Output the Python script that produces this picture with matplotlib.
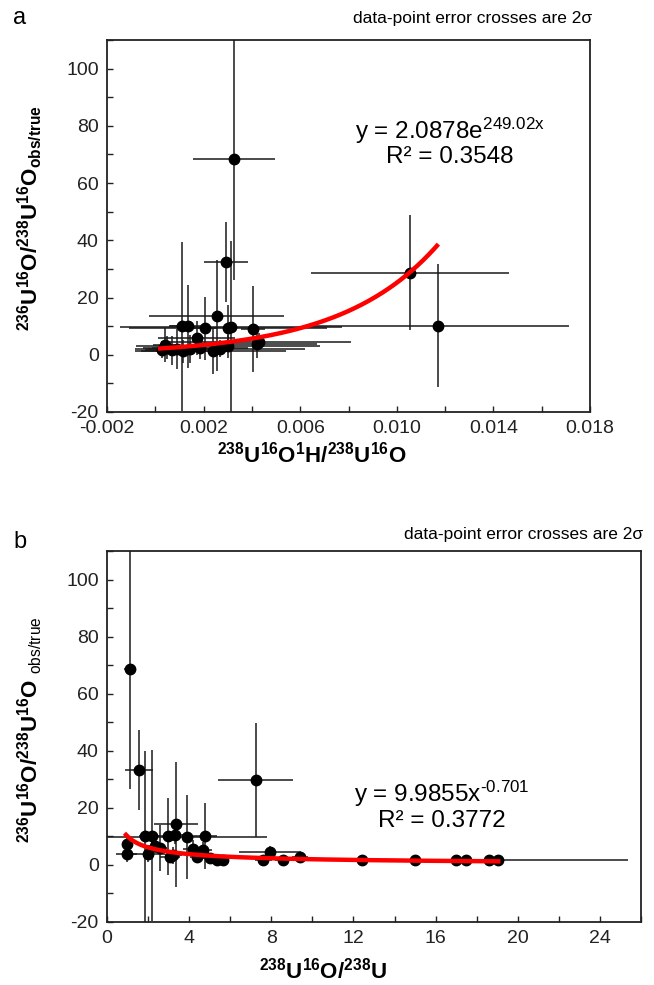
import numpy as np
import matplotlib
matplotlib.use("Agg")
import matplotlib.pyplot as plt
from matplotlib.ticker import FixedLocator

plt.rcParams['font.family'] = ['Liberation Sans', 'DejaVu Sans']
plt.rcParams['mathtext.fontset'] = 'custom'
plt.rcParams['mathtext.rm'] = 'Liberation Sans'
plt.rcParams['mathtext.it'] = 'Liberation Sans'
plt.rcParams['mathtext.bf'] = 'Liberation Sans:bold'
plt.rcParams['axes.unicode_minus'] = False

# ---------------- data : panel a ----------------
a_x = [0.00327, 0.00293, 0.01054, 0.01172, 0.00254, 0.00313, 0.00300, 0.00109, 0.00137,
       0.00206, 0.00403, 0.00420, 0.00171, 0.00026, 0.00047, 0.00070, 0.00088, 0.00115,
       0.00144, 0.00185, 0.00240, 0.00268, 0.00300, 0.00430, 0.00040]
a_y = [68.3, 32.4, 28.7, 10.1, 13.7, 9.7, 9.3, 9.9, 9.9,
       9.3, 9.0, 3.7, 5.8, 1.7, 2.5, 1.5, 2.0, 1.2,
       2.0, 2.5, 1.2, 2.1, 3.0, 4.6, 3.5]
a_xerr = [0.0017, 0.0009, 0.0041, 0.0054, 0.0028, 0.0046, 0.0041, 0.0005, 0.0008,
          0.0005, 0.0005, 0.0025, 0.0016, 0.0007, 0.0010, 0.0006, 0.0012, 0.0020,
          0.0010, 0.0020, 0.0030, 0.0035, 0.0038, 0.0038, 0.0005]
a_yerr = [42, 14, 20, 21.5, 19.5, 30, 8, 29.6, 14.5,
          11, 15, 5, 6, 3, 4, 5, 7, 4,
          5, 4, 8, 3, 4, 3, 6]
a_fit_coef = 2.0878
a_fit_exp = 249.02
a_fit_range = [0.0002, 0.01166]
a_xticks = [-0.002, 0.0, 0.002, 0.004, 0.006, 0.008, 0.010, 0.012, 0.014, 0.016, 0.018]
a_xlabels = ['-0.002', '', '0.002', '', '0.006', '', '0.010', '', '0.014', '', '0.018']

# ---------------- data : panel b ----------------
b_x = [1.12, 1.56, 7.24, 3.36, 1.85, 2.18, 2.99, 3.88, 4.77, 3.31, 0.96, 0.96, 2.01,
       2.34, 3.07, 3.23, 4.20, 4.36, 4.69, 5.01, 5.34, 5.66, 7.61, 7.94, 8.58, 9.40,
       12.4, 15.0, 17.0, 17.5, 18.6, 19.05, 2.60]
b_y = [68.7, 33.3, 29.8, 14.2, 10.0, 10.2, 10.0, 9.8, 10.2, 10.5, 7.2, 4.0, 4.0,
       6.6, 2.8, 3.4, 5.7, 2.8, 5.1, 2.3, 1.7, 1.7, 1.7, 4.5, 1.7, 2.8,
       1.9, 1.7, 1.7, 1.7, 1.7, 1.7, 6.0]
b_xerr = [0.3, 0.68, 1.83, 1.07, 0.3, 0.4, 0.5, 3.9, 0.6, 0.5, 0.15, 0.5, 0.8,
          0.3, 0.5, 0.4, 0.5, 0.3, 0.4, 0.4, 0.3, 0.3, 0.4, 1.5, 0.4, 0.4,
          0.4, 0.4, 0.4, 0.4, 0.5, 6.3, 0.3]
b_yerr = [42, 14, 20, 22, 30, 30, 13.5, 14.8, 11.5, 3, 2.5, 3, 3,
          2.5, 2, 3, 3, 2, 3, 2, 1, 1, 1, 2, 1, 1.5,
          1, 1, 1, 1, 1, 1, 8]
b_fit_coef = 9.9855
b_fit_pow = -0.701
b_fit_range = [0.925, 19.05]
b_xticks = list(range(0, 27, 2))
b_xlabels = ['0', '', '4', '', '8', '', '12', '', '16', '', '20', '', '24', '']

y_ticks = list(range(-20, 111, 10))
y_labels = ['-20', '', '0', '', '20', '', '40', '', '60', '', '80', '', '100', '']

W, H = 654, 985
fig = plt.figure(figsize=(W / 100, H / 100), dpi=100)

def px_axes(l, t, r, b):
    return fig.add_axes([l / W, 1 - b / H, (r - l) / W, (b - t) / H])

axa = px_axes(107, 40, 590, 412)
axb = px_axes(107, 551, 641, 922)

ecol = '#1a1a1a'

def style(ax, xticks, xlabels, xlim):
    ax.set_xlim(*xlim)
    ax.set_ylim(-20, 110)
    ax.xaxis.set_major_locator(FixedLocator(xticks))
    ax.set_xticklabels(xlabels)
    ax.yaxis.set_major_locator(FixedLocator(y_ticks))
    ax.set_yticklabels(y_labels)
    ax.tick_params(direction='in', length=4, width=1.0, labelsize=14, colors='#222222',
                   top=False, right=False, pad=6)
    for s in ax.spines.values():
        s.set_linewidth(1.3)
        s.set_color('#222222')

# panel a
axa.errorbar(a_x, a_y, xerr=a_xerr, yerr=a_yerr, fmt='o', ms=7.5, color='black',
             ecolor=ecol, elinewidth=1.1, capsize=0, zorder=3)
xa = np.linspace(a_fit_range[0], a_fit_range[1], 200)
axa.plot(xa, a_fit_coef * np.exp(a_fit_exp * xa), color='#ff0000', lw=3.2, zorder=4)
style(axa, a_xticks, a_xlabels, (-0.002, 0.018))

# panel b
axb.errorbar(b_x, b_y, xerr=b_xerr, yerr=b_yerr, fmt='o', ms=7.5, color='black',
             ecolor=ecol, elinewidth=1.1, capsize=0, zorder=3)
xb = np.linspace(b_fit_range[0], b_fit_range[1], 200)
axb.plot(xb, b_fit_coef * xb ** b_fit_pow, color='#ff0000', lw=3.2, zorder=4)
style(axb, b_xticks, b_xlabels, (0, 26))

# equations
axa.text(0.71, 0.755, r'y = 2.0878e$^{\text{249.02x}}$', transform=axa.transAxes,
         ha='center', va='center', fontsize=17.5)
axa.text(0.71, 0.685, 'R² = 0.3548', transform=axa.transAxes, ha='center', va='center',
         fontsize=17.5)
axb.text(0.627, 0.346, r'y = 9.9855x$^{\text{-0.701}}$', transform=axb.transAxes,
         ha='center', va='center', fontsize=17.5)
axb.text(0.627, 0.273, 'R² = 0.3772', transform=axb.transAxes, ha='center', va='center',
         fontsize=17.5)

# headers
fig.text(13 / W, 1 - 18 / H, 'a', fontsize=17, va='center', ha='left')
fig.text(592 / W, 1 - 18 / H, 'data-point error crosses are 2σ', fontsize=12.5,
         va='center', ha='right')
fig.text(13 / W, 1 - 542 / H, 'b', fontsize=17, va='center', ha='left')
fig.text(643 / W, 1 - 534 / H, 'data-point error crosses are 2σ', fontsize=12.5,
         va='center', ha='right')

# axis titles
fig.text(312 / W, 1 - 455 / H, r'$\mathbf{^{238}U^{16}O^{1}H/^{238}U^{16}O}$',
         fontsize=16, ha='center', va='center')
fig.text(323 / W, 1 - 971 / H, r'$\mathbf{^{238}U^{16}O/^{238}U}$',
         fontsize=16, ha='center', va='center')
fig.text(30 / W, 1 - 218 / H, r'$\mathbf{^{236}U^{16}O/^{238}U^{16}O_{obs/true}}$',
         fontsize=16, ha='center', va='center', rotation=90)
fig.text(30 / W, 1 - 730 / H, r'$\mathbf{^{236}U^{16}O/^{238}U^{16}O}$$\ _{\mathrm{obs/true}}$',
         fontsize=16, ha='center', va='center', rotation=90)

fig.savefig('out.png', dpi=100)
